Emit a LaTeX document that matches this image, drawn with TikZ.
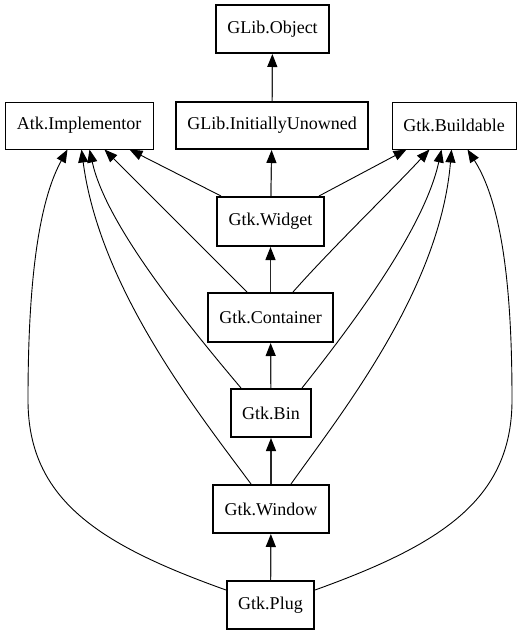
\documentclass[tikz,border=0pt]{standalone}
\usepackage{fontspec}
\setmainfont{Liberation Serif}
\usetikzlibrary{arrows.meta}
\begin{document}
\begin{tikzpicture}[x=1pt,y=-1pt,
  cls/.style={draw, rectangle, inner sep=0pt, font=\fontsize{18}{20}\selectfont, line width=1pt},
  main/.style={cls, line width=2pt},
  tip/.style={-{Triangle[length=13pt,width=10pt,color=black]}},
  inherit/.style={tip, line width=0.9pt},
  chain/.style={tip, line width=1.2pt, draw=black!85}]
\useasboundingbox (0,0) rectangle (521,635);

% classes and interfaces
\node[main, minimum width=113pt, minimum height=48pt] (obj)    at (272.5,29)  {GLib.Object};
\node[cls,  minimum width=148pt, minimum height=47pt] (atk)    at (79,125.5)  {Atk.Implementor};
\node[main, minimum width=192pt, minimum height=47pt] (iu)     at (272,125.5) {GLib.InitiallyUnowned};
\node[cls,  minimum width=124pt, minimum height=47pt] (build)  at (454,125.5) {Gtk.Buildable};
\node[main, minimum width=107pt, minimum height=49pt] (widget) at (270.5,221.5) {Gtk.Widget};
\node[main, minimum width=125pt, minimum height=49pt] (cont)   at (270.5,317.5) {Gtk.Container};
\node[main, minimum width=80pt,  minimum height=48pt] (bin)    at (271,413)   {Gtk.Bin};
\node[main, minimum width=116pt, minimum height=48pt] (win)    at (271,509)   {Gtk.Window};
\node[main, minimum width=87pt,  minimum height=48pt] (plug)   at (270.5,605) {Gtk.Plug};

% class chain
\draw[chain] (iu) -- (obj);
\draw[chain] (widget) -- (iu);
\draw[chain] (cont) -- (widget);
\draw[chain] (bin) -- (cont);
\draw[chain] (win) -- (bin);
\draw[chain] (plug) -- (win);

% Atk.Implementor
\draw[inherit] ([xshift=5pt]widget.north west) -- ([xshift=125pt]atk.south west);
\draw[inherit] ([xshift=-23.5pt]cont.north) .. controls (205,250) and (145,190) .. ([xshift=100pt]atk.south west);
\draw[inherit] ([xshift=-30pt]bin.north) .. controls (175,310) and (105,220) .. ([xshift=85pt]atk.south west);
\draw[inherit] ([xshift=-20pt]win.north) .. controls (200,415) and (100,290) .. ([xshift=77pt]atk.south west);
\draw[inherit] ([yshift=-10pt]plug.north west) .. controls (100,545) and (28,500) .. (28,400)
  .. controls (28,310) and (34,210) .. ([xshift=63pt]atk.south west);

% Gtk.Buildable
\draw[inherit] ([xshift=-6pt]widget.north east) -- ([xshift=15pt]build.south west);
\draw[inherit] ([xshift=22.5pt]cont.north) .. controls (330,250) and (392,190) .. ([xshift=38pt]build.south west);
\draw[inherit] ([xshift=31pt]bin.north) .. controls (360,315) and (425,225) .. ([xshift=50pt]build.south west);
\draw[inherit] ([xshift=20pt]win.north) .. controls (340,415) and (440,290) .. ([xshift=60pt]build.south west);
\draw[inherit] ([yshift=-10pt]plug.north east) .. controls (440,545) and (512,500) .. (512,400)
  .. controls (512,310) and (506,210) .. ([xshift=76pt]build.south west);
\end{tikzpicture}
\end{document}
